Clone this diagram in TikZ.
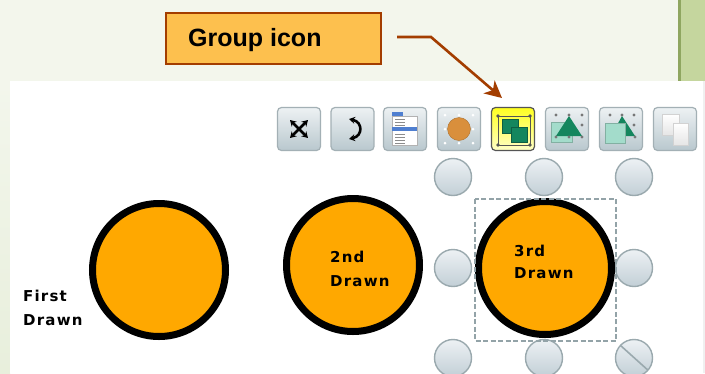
\documentclass[tikz,border=0pt]{standalone}
\usepackage{fontspec}
\setmainfont{Liberation Sans}
\newfontfamily\pixfont[LetterSpace=8]{DejaVu Sans}
\usetikzlibrary{arrows.meta}
\definecolor{bgpale}{HTML}{F3F6EC}
\definecolor{bgleft}{HTML}{E8EFDC}
\definecolor{sidegreen}{HTML}{C5D69E}
\definecolor{sideline}{HTML}{8FA660}
\definecolor{rust}{HTML}{A33D00}
\definecolor{labelfill}{HTML}{FDC04E}
\definecolor{discfill}{HTML}{FFA800}
\definecolor{seagreen}{HTML}{14865E}
\definecolor{palegreen}{HTML}{A3DCCB}
\definecolor{dashgrey}{HTML}{93A3A8}
\definecolor{iconedge}{HTML}{A3B0B5}
\definecolor{icontop}{HTML}{EDF1F3}
\definecolor{iconbot}{HTML}{B9C8CE}
\definecolor{activeedge}{HTML}{555555}
\definecolor{activetop}{HTML}{FFFF20}
\definecolor{activebot}{HTML}{FFFFC8}
\definecolor{handleedge}{HTML}{9AA9AE}
\definecolor{handletop}{HTML}{EDF1F4}
\definecolor{handlebot}{HTML}{C2CFD6}
\definecolor{dotgrey}{HTML}{777777}
\definecolor{ballfill}{HTML}{D98F3C}
\definecolor{menublue}{HTML}{4F7FD0}
\definecolor{menugrey}{HTML}{8C8C8C}
\tikzset{
  iconbox/.style={draw=#1, line width=1.2pt, rounded corners=4pt, minimum width=43pt, minimum height=43pt, inner sep=0pt},
  toolicon/.style={iconbox=iconedge, top color=icontop, bottom color=iconbot},
  activeicon/.style={iconbox=activeedge, top color=activetop, bottom color=activebot},
  handle/.style={circle, draw=handleedge, line width=1.4pt, minimum size=37pt, inner sep=0pt, top color=handletop, bottom color=handlebot},
  disc/.style={circle, draw=black, line width=7pt, fill=discfill, minimum size=133pt, inner sep=0pt},
  pixlabel/.style={anchor=west, inner sep=0pt, align=left, font=\pixfont\bfseries\fontsize{15}{24}\selectfont},
  callout/.style={draw=rust, line width=2.6pt, fill=labelfill, minimum width=215pt, minimum height=51pt, inner sep=0pt},
  pointer/.style={draw=rust, line width=2.6pt, -{Stealth[length=17pt,width=17pt,inset=5pt]}},
  iconarrow/.style={line width=2.6pt, {Stealth[length=6pt,width=7pt]}-{Stealth[length=6pt,width=7pt]}},
}
\begin{document}
\begin{tikzpicture}[x=1pt,y=-1pt]
\useasboundingbox (0,0) rectangle (705,373);
\clip (0,0) rectangle (705,373);
% page background
\fill[bgpale] (0,0) rectangle (705,373);
\fill[top color=bgpale, bottom color=bgleft] (0,81) rectangle (10,373);
\fill[sidegreen] (681,0) rectangle (705,81);
\fill[sideline] (678,0) rectangle (681,81);
% white panel
\fill[white] (10,81) rectangle (703,373);
\fill[gray!12] (703,81) rectangle (705,373);
% callout
\node[callout] (grp) at (273.5,38.5) {};
\node[anchor=west, inner sep=0pt, font=\fontsize{25}{30}\selectfont\bfseries] (grptxt) at (188,40) {Group icon};
% toolbar
\foreach \n/\cx in {1/299,2/352.5,3/405,4/459,6/567,7/621,8/675}
  \node[toolicon] (ic\n) at (\cx,129) {};
\node[activeicon] (ic5) at (513,129) {};
% connector
\coordinate (pstart) at (397,37);
\coordinate (pbend) at (431,37);
\coordinate (ptip) at (502,98);
\draw[pointer] (pstart) -- (pbend) -- (ptip);
% icon 1: expand cross
\draw[iconarrow] (290,120) -- (308,138);
\draw[iconarrow] (308,120) -- (290,138);
% icon 2: curved arrow
\draw[iconarrow] (349,119) .. controls (363,122) and (363,136) .. (349,139);
% icon 3: menu
\fill[white, draw=gray!60, line width=.4pt] (392,116) rectangle (417,145);
\fill[menublue] (392,112) rectangle (403,116);
\fill[menublue] (392,127) rectangle (417,130.5);
\foreach \ly in {119,122,125,134,137,140,143}
  \draw[menugrey, line width=.8pt] (395,\ly) -- (405,\ly);
% icon 4: circle with dots
\foreach \dx in {445,459,473} \foreach \dy in {115,143} \fill[white] (\dx,\dy) circle (1.5);
\foreach \dx in {445,473} \fill[white] (\dx,129) circle (1.5);
\fill[draw=ballfill!80!black, fill=ballfill] (459,129) circle (11.5);
% icon 5: group
\draw[activeedge, line width=.6pt] (498,116) rectangle (530,145);
\foreach \dx/\dy in {498/116,530/116,498/145,530/145}
  \fill[activeedge] (\dx,\dy) circle (1.8);
\fill[seagreen, draw=seagreen!70!black, line width=.4pt] (502,119) rectangle (518,133);
\fill[seagreen, draw=seagreen!70!black, line width=.4pt] (511,127) rectangle (527,142);
% icon 6: bring forward
\fill[palegreen, draw=palegreen!80!black, line width=.4pt] (551,122) rectangle (572,142);
\fill[seagreen] (569,116) -- (582,136) -- (556,136) -- cycle;
\foreach \dx/\dy in {556/115,569/115,582/115,582/125,582/137,556/137,569/137}
  \fill[dotgrey] (\dx,\dy) circle (1.6);
% icon 7: send backward
\fill[seagreen] (622,116) -- (635,136) -- (611,136) -- cycle;
\fill[palegreen, draw=palegreen!80!black, line width=.4pt] (605,123) rectangle (625,143);
\foreach \dx/\dy in {610/115,622/115,634/115,634/125,635/137}
  \fill[dotgrey] (\dx,\dy) circle (1.6);
% icon 8: two pages
\fill[top color=white, bottom color=gray!20, draw=gray!35, line width=.5pt] (662,114) rectangle (679,135);
\fill[top color=white, bottom color=gray!20, draw=gray!35, line width=.5pt] (673,123) rectangle (688,145);
% handles
\node[handle] (h1) at (453,177) {};
\node[handle] (h2) at (544,177) {};
\node[handle] (h3) at (634,177) {};
\node[handle] (h4) at (453,268) {};
\node[handle] (h5) at (634,268) {};
\node[handle] (h6) at (453,358) {};
\node[handle] (h7) at (544,358) {};
\node[handle] (h8) at (634,358) {};
\begin{scope}
\clip (634,358) circle (18.5);
\draw[handleedge, line width=1.6pt] (620,345) -- (650,372);
\end{scope}
% circles
\node[disc] (c1) at (159,270) {};
\node[disc] (c2) at (353,265) {};
\node[disc] (c3) at (545,268) {};
% selection
\draw[dashgrey, line width=1.3pt, dash pattern=on 5pt off 2.5pt] (475,199) rectangle (616,341);
% labels
\node[pixlabel] (t1) at (23,308) {First\\Drawn};
\node[pixlabel] (t2) at (330,269) {2nd\\Drawn};
\node[pixlabel] (t3) at (514,262) {3rd\\[-2pt]Drawn};
\end{tikzpicture}
\end{document}
